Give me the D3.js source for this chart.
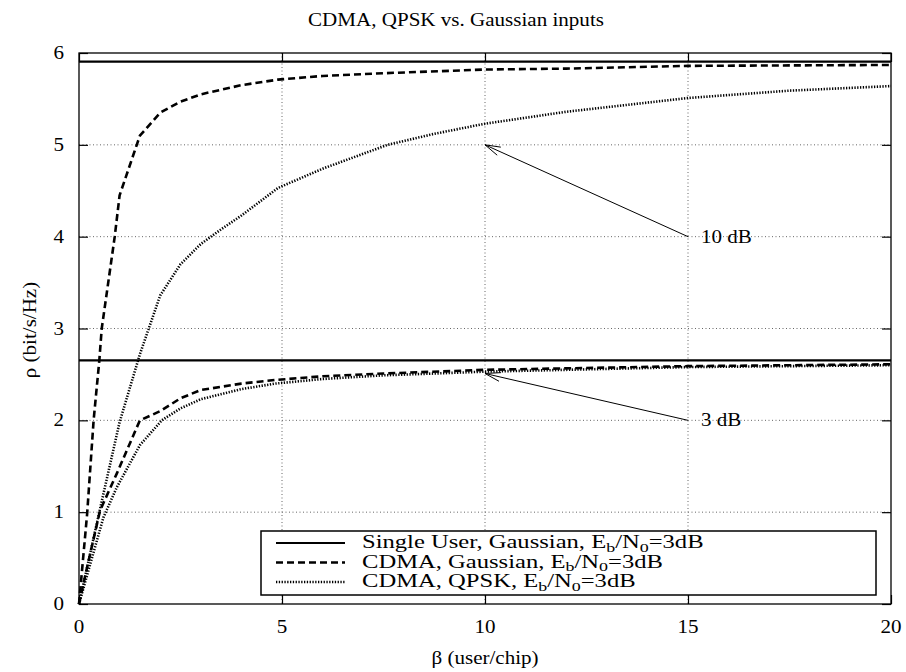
<!DOCTYPE html>
<html><head><meta charset="utf-8">
<script src="https://cdn.jsdelivr.net/npm/d3@7"></script>
<style>body{margin:0;background:#fff}svg{display:block}text{font-family:"Liberation Serif","Times New Roman",serif;fill:#000}</style>
</head><body><svg id="c" width="906" height="672"></svg>
<script>
// ---- data ----
const xTicks = [0, 5, 10, 15, 20];
const yTicks = [0, 1, 2, 3, 4, 5, 6];
const singleUser10 = 5.907;
const singleUser3 = 2.652;
const gauss10X = [0, 0.2, 0.36, 0.5, 0.56, 0.88, 1.0, 1.5, 2.0, 2.5, 3.0, 4.0, 4.9, 6.0, 7.5, 10, 12, 15, 20];
const gauss10Y = [0, 0.98, 2.0, 2.65, 3.0, 4.0, 4.45, 5.1, 5.35, 5.47, 5.55, 5.65, 5.71, 5.75, 5.78, 5.82, 5.83, 5.86, 5.87];
const qpsk10X = [0, 0.5, 1.0, 1.5, 2.0, 2.5, 3.0, 3.5, 4.0, 4.9, 6.0, 7.6, 8.75, 10, 12, 15, 17.5, 20];
const qpsk10Y = [0, 1.0, 1.98, 2.72, 3.36, 3.7, 3.92, 4.08, 4.23, 4.53, 4.74, 5.0, 5.12, 5.23, 5.36, 5.51, 5.59, 5.64];
const gauss3X = [0, 0.2, 0.52, 0.93, 1.5, 2.0, 2.5, 3.0, 4.0, 4.85, 6.0, 7.5, 10, 15, 20];
const gauss3Y = [0, 0.4, 1.02, 1.42, 2.0, 2.1, 2.24, 2.33, 2.40, 2.44, 2.48, 2.51, 2.55, 2.59, 2.61];
const qpsk3X = [0, 0.28, 0.6, 0.93, 1.5, 2.04, 2.5, 3.0, 4.0, 4.83, 6.0, 7.5, 10, 15, 20];
const qpsk3Y = [0, 0.44, 0.94, 1.27, 1.73, 2.0, 2.13, 2.23, 2.34, 2.40, 2.45, 2.49, 2.53, 2.58, 2.60];
const legendLabels = [["Single User, Gaussian, E","b","/N","0","=3dB"],["CDMA, Gaussian, E","b","/N","0","=3dB"],["CDMA, QPSK, E","b","/N","0","=3dB"]];
const annotations = [{label:"10 dB", from:[15,4], to:[10,5]}, {label:"3 dB", from:[15,2], to:[10,2.51]}];

// ---- layout ----
const L=79, R=891, T=53, B=604, SX=1.17, SXL=1.33;
const svg = d3.select("#c");
const x = d3.scaleLinear().domain([0,20]).range([L,R]);
const y = d3.scaleLinear().domain([0,6]).range([B,T]);

function stext(parent, px, py, str, size, anchor, rot){
  return parent.append("text")
    .attr("transform",`translate(${px},${py})${rot?` rotate(${rot})`:""} scale(${SX},1)`)
    .attr("text-anchor",anchor||"start").style("font-size",size+"px").text(str);
}

// grid
const grid = svg.append("g").attr("stroke","#666").attr("stroke-width",1).attr("stroke-dasharray","1,2.5");
grid.selectAll(".gx").data(xTicks.slice(1,-1)).join("line").attr("x1",d=>x(d)).attr("x2",d=>x(d)).attr("y1",T).attr("y2",B);
grid.selectAll(".gy").data(yTicks.slice(1,-1)).join("line").attr("y1",d=>y(d)).attr("y2",d=>y(d)).attr("x1",L).attr("x2",R);

// axes with inward ticks
const tl = 9;
const axB = svg.append("g").attr("transform",`translate(0,${B})`).call(d3.axisBottom(x).tickValues(xTicks).tickSize(-tl).tickFormat(""));
const axT = svg.append("g").attr("transform",`translate(0,${T})`).call(d3.axisTop(x).tickValues(xTicks).tickSize(-tl).tickFormat(""));
const axL = svg.append("g").attr("transform",`translate(${L},0)`).call(d3.axisLeft(y).tickValues(yTicks).tickSize(-tl).tickFormat(""));
const axR = svg.append("g").attr("transform",`translate(${R},0)`).call(d3.axisRight(y).tickValues(yTicks).tickSize(-tl).tickFormat(""));
[axB,axT,axL,axR].forEach(a=>{a.select(".domain").remove();a.selectAll("line").attr("stroke","#000").attr("stroke-width",1.2);});
const fmt = d3.format("d");
xTicks.forEach(v=>stext(svg, x(v), 633, fmt(v), 18, "middle"));
yTicks.forEach(v=>stext(svg, 64, y(v)+6, fmt(v), 18, "end"));
svg.append("rect").attr("x",L).attr("y",T).attr("width",R-L).attr("height",B-T).attr("fill","none").attr("stroke","#000").attr("stroke-width",1.3);

// curves
const line = d3.line().x(d=>x(d[0])).y(d=>y(d[1]));
const styles = {solid:{w:2.2,da:null}, dashed:{w:2.6,da:"7,4"}, dotted:{w:2.6,da:"1.3,1.5"}};
function draw(xs, ys, st){
  const pts = xs.map((v,i)=>[v,ys[i]]);
  svg.append("path").datum(pts).attr("d",line).attr("fill","none").attr("stroke","#000")
    .attr("stroke-width",styles[st].w).attr("stroke-dasharray",styles[st].da).attr("stroke-linejoin","round");
}
draw([0,20],[singleUser10,singleUser10],"solid");
draw([0,20],[singleUser3,singleUser3],"solid");
draw(gauss10X,gauss10Y,"dashed");
draw(gauss3X,gauss3Y,"dashed");
draw(qpsk10X,qpsk10Y,"dotted");
draw(qpsk3X,qpsk3Y,"dotted");

// annotations
annotations.forEach(a=>{
  const x1=x(a.from[0]), y1=y(a.from[1]), x2=x(a.to[0]), y2=y(a.to[1]);
  svg.append("line").attr("x1",x1).attr("y1",y1).attr("x2",x2).attr("y2",y2).attr("stroke","#000").attr("stroke-width",1);
  const ang=Math.atan2(y1-y2,x1-x2), hl=16, ha=0.28;
  [ang-ha, ang+ha].forEach(t=>svg.append("line").attr("x1",x2).attr("y1",y2).attr("x2",x2+hl*Math.cos(t)).attr("y2",y2+hl*Math.sin(t)).attr("stroke","#000").attr("stroke-width",1));
  stext(svg, x1+13, y1+6, a.label, 18, "start");
});

// legend
const lg = svg.append("g");
lg.append("rect").attr("x",261).attr("y",531).attr("width",615).attr("height",64).attr("fill","#fff").attr("stroke","#000").attr("stroke-width",1.5);
["solid","dashed","dotted"].forEach((st,i)=>{
  const ly = 543 + i*19.5;
  lg.append("line").attr("x1",276).attr("x2",345).attr("y1",ly).attr("y2",ly).attr("stroke","#000")
    .attr("stroke-width",styles[st].w).attr("stroke-dasharray",styles[st].da);
  const t = lg.append("text").attr("transform",`translate(362,${ly+5}) scale(${SXL},1)`).style("font-size","18.5px");
  const parts = legendLabels[i];
  t.append("tspan").text(parts[0]);
  t.append("tspan").attr("dy",3.5).style("font-size","13.5px").text(parts[1]);
  t.append("tspan").attr("dy",-3.5).text(parts[2]);
  t.append("tspan").attr("dy",3.5).style("font-size","13.5px").text(parts[3]);
  t.append("tspan").attr("dy",-3.5).text(parts[4]);
});

// titles
stext(svg, 456, 26, "CDMA, QPSK vs. Gaussian inputs", 18, "middle");
stext(svg, 485, 664, "β (user/chip)", 18, "middle");
stext(svg, 36, 330, "ρ (bit/s/Hz)", 18, "middle", -90);
</script></body></html>
